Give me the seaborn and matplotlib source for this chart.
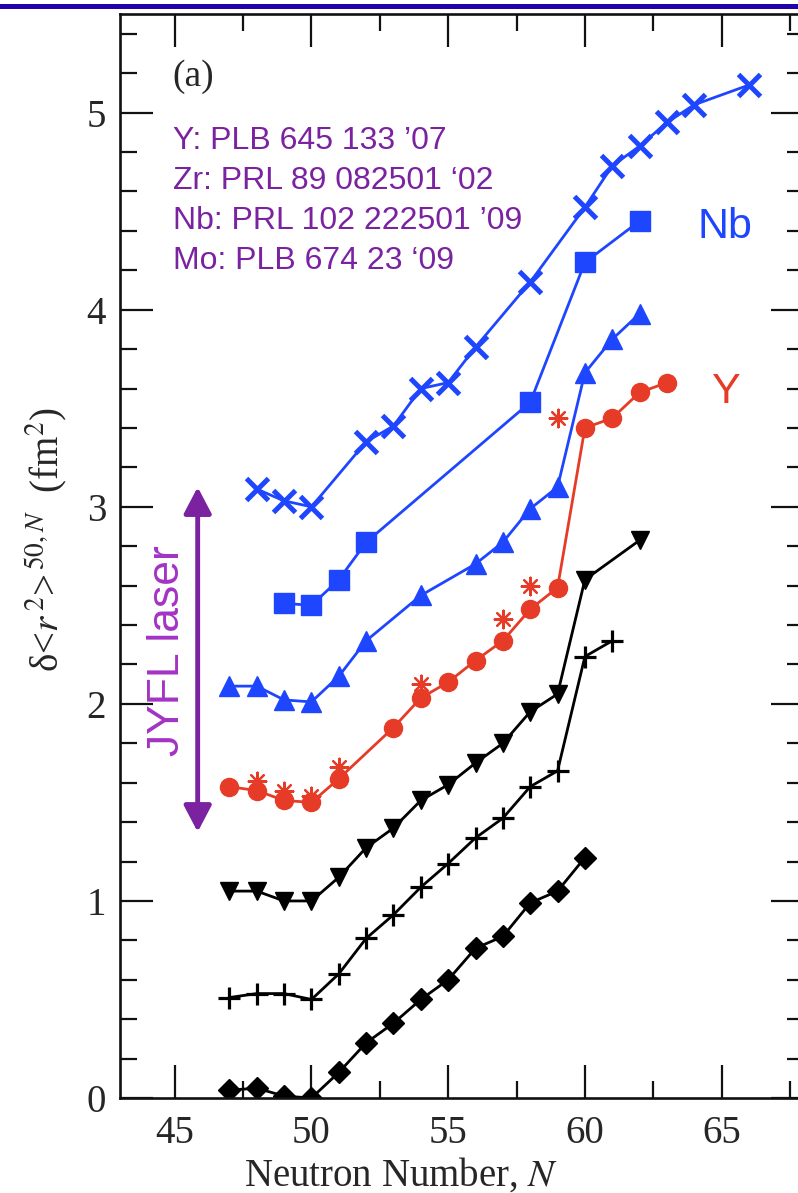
import matplotlib
matplotlib.use("Agg")
import matplotlib.pyplot as plt
from matplotlib.patches import Rectangle
from matplotlib.ticker import MultipleLocator
import seaborn as sns

# Changes in mean-square charge radii relative to N=50, offset by isotope chain
kr_n = [47, 48, 49, 50, 51, 52, 53, 54, 55, 56, 57, 58, 59, 60]
kr_dr2 = [0.04, 0.05, 0.01, 0.00, 0.13, 0.28, 0.38, 0.50, 0.60, 0.76, 0.82, 0.99, 1.05, 1.22]

rb_n = [47, 48, 49, 50, 51, 52, 53, 54, 55, 56, 57, 58, 59, 60, 61]
rb_dr2 = [0.51, 0.53, 0.53, 0.50, 0.63, 0.81, 0.93, 1.07, 1.19, 1.32, 1.42, 1.58, 1.66, 2.24, 2.32]

sr_n = [47, 48, 49, 50, 51, 52, 53, 54, 55, 56, 57, 58, 59, 60, 62]
sr_dr2 = [1.05, 1.05, 1.00, 1.00, 1.12, 1.27, 1.37, 1.51, 1.59, 1.70, 1.80, 1.96, 2.05, 2.63, 2.83]

y_n = [47, 48, 49, 50, 51, 53, 54, 55, 56, 57, 58, 59, 60, 61, 62, 63]
y_dr2 = [1.58, 1.56, 1.51, 1.50, 1.62, 1.88, 2.03, 2.11, 2.22, 2.32, 2.48, 2.59, 3.40, 3.45, 3.58, 3.63]

y_old_n = [48, 49, 50, 51, 54, 57, 58, 59]
y_old_dr2 = [1.61, 1.56, 1.53, 1.68, 2.10, 2.43, 2.60, 3.45]

zr_n = [47, 48, 49, 50, 51, 52, 54, 56, 57, 58, 59, 60, 61, 62]
zr_dr2 = [2.09, 2.09, 2.02, 2.01, 2.14, 2.32, 2.55, 2.71, 2.82, 2.99, 3.10, 3.68, 3.85, 3.98]

nb_n = [49, 50, 51, 52, 58, 60, 62]
nb_dr2 = [2.51, 2.50, 2.63, 2.82, 3.53, 4.24, 4.45]

mo_n = [48, 49, 50, 52, 53, 54, 55, 56, 58, 60, 61, 62, 63, 64, 66]
mo_dr2 = [3.09, 3.03, 3.00, 3.33, 3.41, 3.60, 3.63, 3.81, 4.14, 4.52, 4.73, 4.83, 4.95, 5.04, 5.14]

references = ["Y: PLB 645 133 \u201907", "Zr: PRL 89 082501 \u201802",
              "Nb: PRL 102 222501 \u201909", "Mo: PLB 674 23 \u201809"]

BLUE = "#1f46ff"
RED = "#e63c27"
BLACK = "#000000"
PURPLE = "#7a22a0"
LIGHT_PURPLE = "#a333c4"

sns.set_style("ticks")
plt.rcParams["font.family"] = ["Liberation Serif", "DejaVu Serif"]
plt.rcParams["mathtext.fontset"] = "stix"

fig = plt.figure(figsize=(7.98, 11.93), dpi=100)
ax = fig.add_axes([0.1504, 0.0796, 0.8567, 0.9086])

# Header rule across the top of the page
fig.add_artist(Rectangle((0, 1 - 9 / 1193), 1, 5 / 1193, transform=fig.transFigure,
                         color="#2200aa", lw=0))

series = [
    (kr_n, kr_dr2, BLACK, "D", 11.5, 1.0),
    (rb_n, rb_dr2, BLACK, "+", 16, 2.3),
    (sr_n, sr_dr2, BLACK, "v", 13, 1.0),
    (y_n, y_dr2, RED, "o", 13, 1.0),
    (zr_n, zr_dr2, BLUE, "^", 14, 1.0),
    (nb_n, nb_dr2, BLUE, "s", 14, 1.0),
    (mo_n, mo_dr2, BLUE, "x", 16, 3.6),
]
for n, d, c, m, ms, mew in series:
    sns.lineplot(x=n, y=d, ax=ax, color=c, marker=m, markersize=ms,
                 mec=c, mew=mew, lw=2.0, errorbar=None)

sns.scatterplot(x=y_old_n, y=y_old_dr2, ax=ax, marker=(8, 2, 0), s=160,
                color=RED, linewidth=1.6, zorder=3)

ax.set_xlim(43, 68)
ax.set_ylim(0, 5.5)
ax.xaxis.set_major_locator(MultipleLocator(5))
ax.xaxis.set_minor_locator(MultipleLocator(2.5))
ax.yaxis.set_major_locator(MultipleLocator(1))
ax.yaxis.set_minor_locator(MultipleLocator(0.2))
ax.tick_params(which="both", direction="in", top=True, right=True,
               width=1.6, color="#111111", labelsize=28)
ax.tick_params(which="major", length=24)
ax.tick_params(which="minor", length=12)
ax.tick_params(axis="y", pad=10)
ax.tick_params(axis="x", pad=12)
for s in ax.spines.values():
    s.set_linewidth(1.9)
    s.set_color("#111111")

ax.set_xlabel("Neutron Number, $N$", fontsize=28, va="top")
ax.xaxis.set_label_coords(0.411, -0.053)
ax.set_ylabel(r"\u03b4<$r^{\,2}$>$^{\,50,N}$  (fm$^{2}$)".replace("\\u03b4", "\u03b4"),
              fontsize=28, va="center")
ax.yaxis.set_label_coords(-0.108, 0.515)

ax.text(0.076, 0.942, "(a)", transform=ax.transAxes, fontsize=27,
        ha="left", va="center")

for i, ref in enumerate(references):
    ax.text(173, 1193 - 149 - 40 * i, ref, transform=None, fontsize=23,
            family="Liberation Sans", color=PURPLE, ha="left", va="baseline")

ax.text(64.1, 4.366, "Nb", fontsize=31, family="Liberation Sans", color=BLUE,
        ha="left", va="baseline")
ax.text(64.65, 3.528, "Y", fontsize=31, family="Liberation Sans", color=RED,
        ha="left", va="baseline")

ax.text(44.74, 2.27, "JYFL laser", fontsize=32, family="Liberation Sans",
        color=LIGHT_PURPLE, rotation=90, ha="center", va="center")
ax.annotate("", xy=(45.84, 3.10), xytext=(45.84, 1.35),
            arrowprops=dict(arrowstyle="<|-|>,head_length=0.8,head_width=0.42",
                            mutation_scale=20, color=PURPLE, lw=3.5,
                            shrinkA=0, shrinkB=0))

fig.savefig("out.png", dpi=100)
